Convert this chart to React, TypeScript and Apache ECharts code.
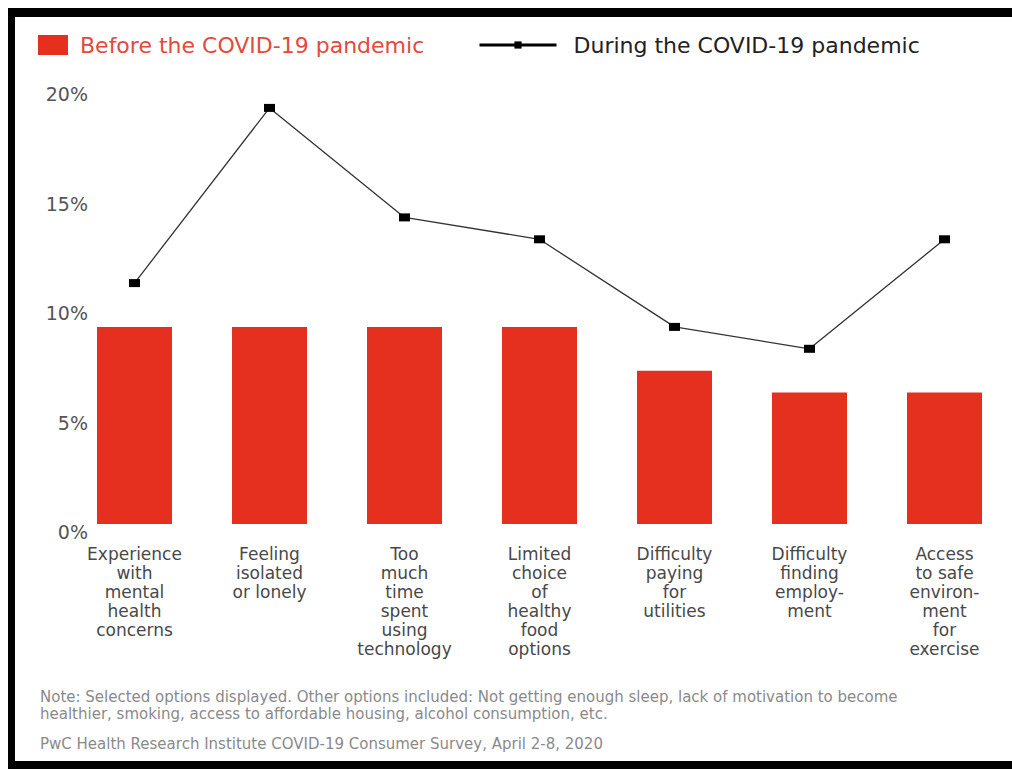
import React, { useEffect, useRef } from "react";
import * as echarts from "echarts";

const categories = [
  "Experience\nwith\nmental\nhealth\nconcerns",
  "Feeling\nisolated\nor lonely",
  "Too\nmuch\ntime\nspent\nusing\ntechnology",
  "Limited\nchoice\nof\nhealthy\nfood\noptions",
  "Difficulty\npaying\nfor\nutilities",
  "Difficulty\nfinding\nemploy-\nment",
  "Access\nto safe\nenviron-\nment\nfor\nexercise",
];
const beforeValues = [9, 9, 9, 9, 7, 6, 6];
const duringValues = [11, 19, 14, 13, 9, 8, 13];
const seriesNames = ["Before the COVID-19 pandemic", "During the COVID-19 pandemic"];
const noteLines = [
  "Note: Selected options displayed. Other options included: Not getting enough sleep, lack of motivation to become",
  "healthier, smoking, access to affordable housing, alcohol consumption, etc.",
];
const sourceText = "PwC Health Research Institute COVID-19 Consumer Survey, April 2-8, 2020";

const FONT = "DejaVu Sans";

export default function App() {
  const ref = useRef<HTMLDivElement>(null);
  useEffect(() => {
    if (!ref.current) return;
    const chart = echarts.init(ref.current, null, { renderer: "svg" });
    chart.setOption({
      animation: false,
      backgroundColor: "#ffffff",
      legend: [
        {
          data: [{ name: seriesNames[0], icon: "rect" }],
          left: 38,
          top: 34,
          padding: 0,
          itemWidth: 30,
          itemHeight: 20,
          selectedMode: false,
          textStyle: { color: "#e24a3c", fontSize: 22, fontFamily: FONT, padding: [0, 0, 0, 7] },
        },
        {
          data: [seriesNames[1]],
          left: 478,
          top: 34,
          padding: 0,
          itemWidth: 77,
          itemHeight: 9,
          selectedMode: false,
          lineStyle: { width: 3, color: "#000" },
          textStyle: { color: "#222", fontSize: 22, fontFamily: FONT, padding: [0, 0, 0, 12] },
        },
      ],
      grid: { left: 67, right: -10, top: 86, bottom: 245, containLabel: false },
      xAxis: {
        type: "category",
        data: categories,
        axisLine: { show: false },
        axisTick: { show: false },
        axisLabel: {
          interval: 0,
          margin: 20,
          color: "#484848",
          fontSize: 17,
          lineHeight: 19,
          fontFamily: FONT,
          verticalAlign: "top",
          align: "center",
        },
      },
      yAxis: {
        type: "value",
        min: 0,
        max: 20,
        interval: 5,
        splitLine: { show: false },
        axisLine: { show: false },
        axisTick: { show: false },
        axisLabel: {
          formatter: "{value}%",
          margin: -21,
          align: "right",
          verticalAlign: "top",
          lineHeight: 16,
          color: "#555",
          fontSize: 19,
          fontFamily: FONT,
        },
      },
      series: [
        {
          name: seriesNames[0],
          type: "bar",
          data: beforeValues,
          barWidth: 75,
          itemStyle: { color: "#e5301f" },
        },
        {
          name: seriesNames[1],
          type: "line",
          data: duringValues,
          symbol: "rect",
          symbolSize: [11, 8],
          lineStyle: { color: "#333", width: 1.3 },
          itemStyle: { color: "#000" },
          z: 5,
        },
      ],
      graphic: [
        { type: "rect", shape: { x: 8, y: 8, width: 1004, height: 9 }, style: { fill: "#000" } },
        { type: "rect", shape: { x: 8, y: 8, width: 7, height: 761 }, style: { fill: "#000" } },
        { type: "rect", shape: { x: 8, y: 761, width: 1004, height: 8 }, style: { fill: "#000" } },
        {
          type: "text",
          left: 40,
          top: 689,
          style: { text: noteLines[0], fill: "#8a8a8a", fontSize: 15, fontFamily: FONT },
        },
        {
          type: "text",
          left: 40,
          top: 706,
          style: { text: noteLines[1], fill: "#8a8a8a", fontSize: 15, fontFamily: FONT },
        },
        {
          type: "text",
          left: 40,
          top: 736,
          style: { text: sourceText, fill: "#8a8a8a", fontSize: 15, fontFamily: FONT },
        },
      ],
    });
    return () => chart.dispose();
  }, []);
  return (
    <div
      ref={ref}
      style={{ position: "fixed", left: 0, top: 0, width: 1012, height: 769, background: "#fff" }}
    />
  );
}
